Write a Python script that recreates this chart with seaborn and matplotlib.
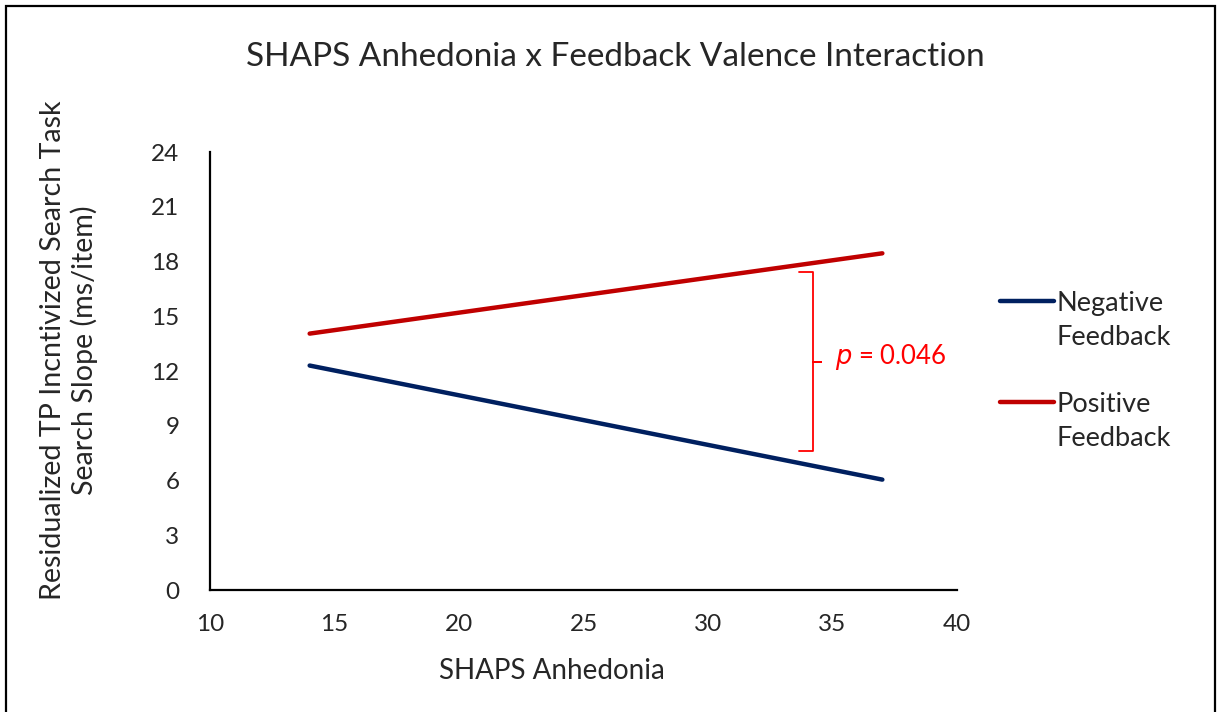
import matplotlib
matplotlib.use('Agg')
import matplotlib.pyplot as plt
import seaborn as sns
import pandas as pd
from matplotlib.patches import Rectangle
from matplotlib.lines import Line2D
from matplotlib.legend_handler import HandlerLine2D

# simple-slopes endpoints
anhedonia = [14, 37]
negative_slope = [12.3, 6.05]
positive_slope = [14.05, 18.45]
series_names = ['Negative\nFeedback', 'Positive\nFeedback']
series_colors = ['#002060', '#C00000']

x_ticks = [10, 15, 20, 25, 30, 35, 40]
y_ticks = [0, 3, 6, 9, 12, 15, 18, 21, 24]

# bracket between the lines at the high end
bracket_x = 34.2
bracket_top = 17.4
bracket_bottom = 7.6
p_label = 0.046

df = pd.DataFrame({
    'SHAPS': anhedonia * 2,
    'Slope': negative_slope + positive_slope,
    'Feedback': [series_names[0]] * 2 + [series_names[1]] * 2,
})


# legend line sits next to the first text line, like Excel does
class TopLineHandler(HandlerLine2D):
    def create_artists(self, legend, orig_handle, xdescent, ydescent,
                       width, height, fontsize, trans):
        artists = super().create_artists(legend, orig_handle, xdescent, ydescent,
                                         width, height, fontsize, trans)
        for a in artists:
            if isinstance(a, Line2D):
                a.set_ydata([y + fontsize * 0.74 for y in a.get_ydata()])
        return artists


sns.set_style('white')
plt.rcParams['font.family'] = ['Lato', 'DejaVu Sans']

fig = plt.figure(figsize=(12.17, 7.12), dpi=100)
ax = fig.add_axes([0.1726, 0.1713, 0.6138, 0.6152])

sns.lineplot(data=df, x='SHAPS', y='Slope', hue='Feedback',
             palette=series_colors, linewidth=3.2, ax=ax,
             solid_capstyle='round')

ax.set_xlim(10, 40)
ax.set_ylim(0, 24)
ax.set_xticks(x_ticks)
ax.set_yticks(y_ticks)
ax.tick_params(axis='both', length=0, labelsize=17.5)
ax.tick_params(axis='y', pad=22)
ax.tick_params(axis='x', pad=17)
for s in ['top', 'right']:
    ax.spines[s].set_visible(False)
for s in ['left', 'bottom']:
    ax.spines[s].set_color('black')
    ax.spines[s].set_linewidth(1.6)

ax.set_xlabel('SHAPS Anhedonia', fontsize=20)
ax.xaxis.set_label_coords(0.458, -0.155)
ax.set_ylabel('Residualized TP Incntivized Search Task\nSearch Slope (ms/item)',
              fontsize=20.6, linespacing=1.2)
ax.yaxis.set_label_coords(-0.15, 0.548)
fig.text(0.506, 0.92, 'SHAPS Anhedonia x Feedback Valence Interaction',
         ha='center', va='center', fontsize=24)

# bracket
mid = (bracket_top + bracket_bottom) / 2
bx = [bracket_x - 0.55, bracket_x, bracket_x, bracket_x + 0.35, bracket_x,
      bracket_x, bracket_x - 0.55]
by = [bracket_top, bracket_top, mid, mid, mid, bracket_bottom, bracket_bottom]
ax.plot(bx, by, color='#FF0000', linewidth=1.3)
ax.text(bracket_x + 0.9, mid + 0.25, f'$p$ = {p_label:.3f}', color='#FF0000',
        fontsize=18.5, va='center', ha='left')

handles, labels = ax.get_legend_handles_labels()
leg = ax.legend(handles, labels, loc='center left', bbox_to_anchor=(1.057, 0.5),
                frameon=False, fontsize=19.5, handlelength=2.0, handletextpad=0.1,
                labelspacing=1.55, borderpad=0, borderaxespad=0,
                handler_map={Line2D: TopLineHandler()})
for t in leg.get_texts():
    t.set_linespacing(1.45)

fig.patches.append(Rectangle((0.005, -0.02), 0.993, 1.012,
                             transform=fig.transFigure, fill=False,
                             edgecolor='black', linewidth=1.6))

fig.savefig('out.png', dpi=100, facecolor='white')
